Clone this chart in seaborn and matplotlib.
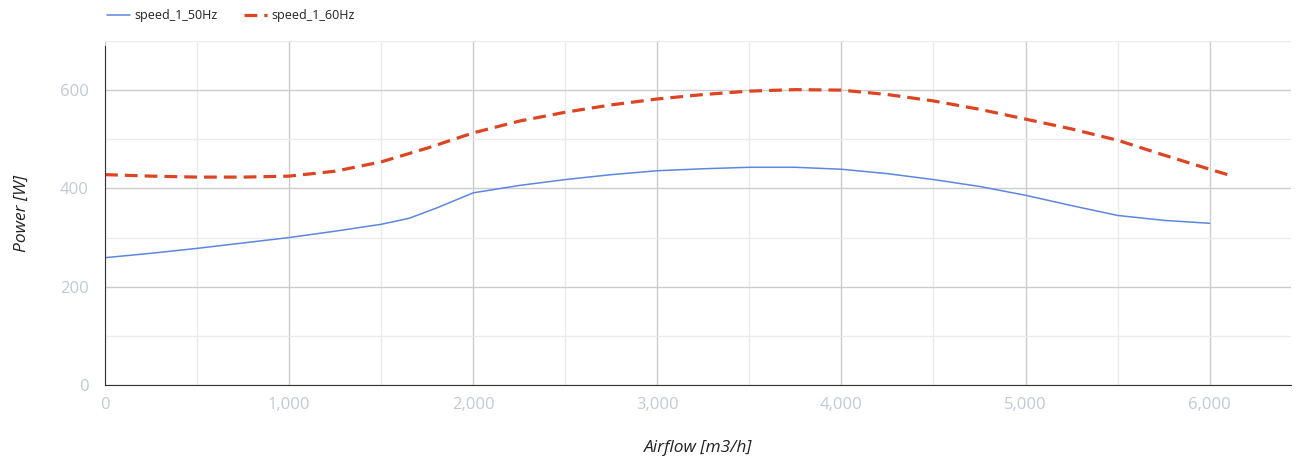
import pandas as pd
import matplotlib.pyplot as plt
import seaborn as sns

# airflow [m3/h] / power [W]
airflow_50 = [0, 250, 500, 750, 1000, 1250, 1500, 1650, 1800, 2000, 2250, 2500, 2750,
              3000, 3250, 3500, 3750, 4000, 4250, 4500, 4750, 5000, 5250, 5500, 5750, 6000]
power_50 = [259, 268, 278, 289, 300, 313, 327, 339, 360, 391, 406, 418, 428,
            436, 440, 443, 443, 439, 430, 418, 404, 386, 365, 345, 335, 329]

airflow_60 = [0, 250, 500, 750, 1000, 1250, 1500, 1750, 2000, 2250, 2500, 2750, 3000,
              3250, 3500, 3750, 4000, 4250, 4500, 4750, 5000, 5250, 5500, 5750, 6000, 6125]
power_60 = [428, 425, 423, 423, 425, 435, 454, 482, 513, 537, 555, 570, 582,
            591, 598, 601, 600, 591, 578, 561, 541, 521, 498, 468, 439, 425]

sns.set_style("white")
plt.rcParams['font.family'] = ['Open Sans', 'DejaVu Sans']

fig = plt.figure(figsize=(13.05, 4.62), dpi=100)
ax = fig.add_axes([0.0805, 0.1667, 0.9085, 0.7446])

df50 = pd.DataFrame({"Airflow": airflow_50, "Power": power_50})
df60 = pd.DataFrame({"Airflow": airflow_60, "Power": power_60})

sns.lineplot(data=df50, x="Airflow", y="Power", ax=ax, color="#5d86e0",
             linewidth=1.1, label="speed_1_50Hz")
sns.lineplot(data=df60, x="Airflow", y="Power", ax=ax, color="#dd4421",
             linewidth=2.3, linestyle=(0, (4, 2.2)), label="speed_1_60Hz")

ax.set_xlim(0, 6440)
ax.set_ylim(0, 700)
ax.set_xticks(range(0, 6001, 1000))
ax.set_xticklabels([f"{v:,}" for v in range(0, 6001, 1000)])
ax.set_yticks([0, 200, 400, 600])
ax.set_xticks(range(500, 6500, 1000), minor=True)
ax.set_yticks([100, 300, 500, 700], minor=True)
ax.grid(which="major", color="#cccccc", linewidth=1.0)
ax.grid(which="minor", color="#ebebeb", linewidth=1.0)
ax.set_axisbelow(True)

for s in ["top", "right"]:
    ax.spines[s].set_visible(False)
ax.spines["left"].set_color("#333333")
ax.spines["left"].set_bounds(0, 690)
ax.spines["bottom"].set_color("#333333")
ax.tick_params(axis="both", which="both", length=0, labelsize=12, labelcolor="#c3c8d8")
ax.tick_params(axis="x", pad=9)
ax.tick_params(axis="y", pad=12)

ax.set_xlabel("Airflow [m3/h]", fontsize=12.5, fontstyle="italic", color="#222222", labelpad=19)
ax.set_ylabel("Power [W]", fontsize=12.5, fontstyle="italic", color="#222222", labelpad=21)

handles, labels = ax.get_legend_handles_labels()
ax.legend_.remove()
fig.legend(handles, labels, loc="upper left", bbox_to_anchor=(0.073, 1.005), ncol=2,
           frameon=False, fontsize=9, handlelength=1.9, columnspacing=2.1,
           handletextpad=0.3, labelcolor="#222222")

plt.savefig("out.png", dpi=100)
